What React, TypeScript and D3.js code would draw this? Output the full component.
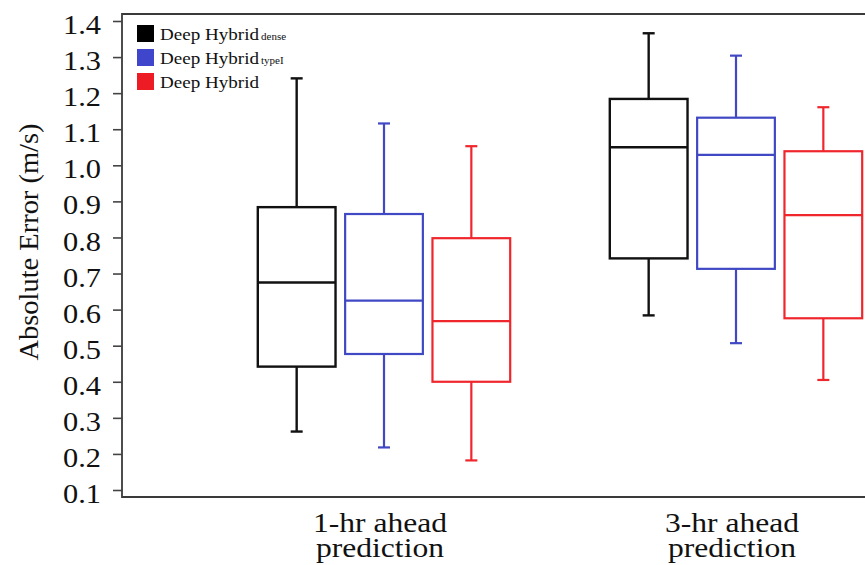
import React, { useEffect, useRef } from "react";
import * as d3 from "d3";

// Forecast horizons (x groups) and their two-line labels
const horizons = ["1-hr", "3-hr"];
const horizonLine1 = ["1-hr ahead", "3-hr ahead"];
const horizonLine2 = ["prediction", "prediction"];

// Models
const models = ["dense", "typeI", "base"];
const modelNames = ["Deep Hybrid", "Deep Hybrid", "Deep Hybrid"];
const modelSubscripts = ["dense", "typeI", ""];
const modelStroke = ["#111111", "#4048c4", "#f0262d"];
const modelSwatch = ["#000000", "#3f46cc", "#ed1c24"];

// Box statistics per horizon: [min, q1, median, q3, max]
const denseStats = [
  [0.262, 0.442, 0.675, 0.884, 1.241],
  [0.584, 0.742, 1.05, 1.184, 1.366],
];
const typeIStats = [
  [0.218, 0.477, 0.625, 0.865, 1.116],
  [0.507, 0.713, 1.029, 1.132, 1.304],
];
const baseStats = [
  [0.182, 0.4, 0.568, 0.798, 1.053],
  [0.405, 0.576, 0.862, 1.039, 1.161],
];
const allStats = [denseStats, typeIStats, baseStats];

const yTickValues = [0.1, 0.2, 0.3, 0.4, 0.5, 0.6, 0.7, 0.8, 0.9, 1.0, 1.1, 1.2, 1.3, 1.4];

const W = 865;
const H = 565;
const left = 122;
const top = 14;
const bottom = 497;
const FONT = "Liberation Serif";

export default function App() {
  const axisRef = useRef<SVGGElement>(null);

  const y = d3.scaleLinear().domain([0.1, 1.4]).range([490, 21]);
  const xGroup = d3.scalePoint<string>().domain(horizons).range([386, 738]);
  const xModel = d3
    .scaleBand<string>()
    .domain(models)
    .range([-133, 129])
    .paddingInner(0.11)
    .paddingOuter(0.055);
  const bw = xModel.bandwidth();
  const capW = 12;

  useEffect(() => {
    if (!axisRef.current) return;
    const g = d3.select(axisRef.current);
    g.selectAll("*").remove();
    g.call(
      d3
        .axisLeft(y)
        .tickValues(yTickValues)
        .tickSize(9)
        .tickPadding(12)
        .tickFormat(d3.format(".1f"))
    );
    g.select(".domain").remove();
    g.selectAll(".tick line").attr("stroke", "#444").attr("stroke-width", 1.6);
    g.selectAll(".tick text")
      .attr("font-family", FONT)
      .attr("font-size", 28)
      .attr("fill", "#111")
      .attr("dy", "0.45em")
      .attr("textLength", 38)
      .attr("lengthAdjust", "spacingAndGlyphs");
  }, []);

  return (
    <svg
      width={W}
      height={H}
      style={{ position: "absolute", left: 0, top: 0, background: "#fff" }}
    >
      <rect x={0} y={0} width={W} height={H} fill="#fff" />

      {/* frame: left axis, top and bottom rules */}
      <path
        d={`M${W + 2},${top} H${left} V${bottom} H${W + 2}`}
        fill="none"
        stroke="#3a3a3a"
        strokeWidth={1.8}
      />

      <g ref={axisRef} transform={`translate(${left},0)`} />

      {/* y-axis title */}
      <text
        transform={`translate(38,242) rotate(-90)`}
        textAnchor="middle"
        fontFamily={FONT}
        fontSize={27}
        fill="#111"
        textLength={237}
        lengthAdjust="spacingAndGlyphs"
      >
        Absolute Error (m/s)
      </text>

      {/* boxes */}
      {horizons.map((h, gi) =>
        models.map((m, mi) => {
          const [mn, q1, med, q3, mx] = allStats[mi][gi];
          const cx = (xGroup(h) as number) + (xModel(m) as number) + bw / 2;
          const x0 = cx - bw / 2;
          const col = modelStroke[mi];
          const sw = mi === 0 ? 2.4 : 2.2;
          return (
            <g key={`${h}-${m}`} stroke={col} strokeWidth={sw} fill="none">
              <line x1={cx} x2={cx} y1={y(mx)} y2={y(q3)} />
              <line x1={cx} x2={cx} y1={y(q1)} y2={y(mn)} />
              <line x1={cx - capW / 2} x2={cx + capW / 2} y1={y(mx)} y2={y(mx)} />
              <line x1={cx - capW / 2} x2={cx + capW / 2} y1={y(mn)} y2={y(mn)} />
              <rect x={x0} y={y(q3)} width={bw} height={y(q1) - y(q3)} />
              <line x1={x0} x2={x0 + bw} y1={y(med)} y2={y(med)} />
            </g>
          );
        })
      )}

      {/* x category labels */}
      {horizons.map((h, gi) => {
        const cx = (xGroup(h) as number) - 6;
        return (
          <g key={h} fontFamily={FONT} fontSize={28} fill="#111" textAnchor="middle">
            <text x={cx} y={532} textLength={134} lengthAdjust="spacingAndGlyphs">
              {horizonLine1[gi]}
            </text>
            <text x={cx} y={557} textLength={128} lengthAdjust="spacingAndGlyphs">
              {horizonLine2[gi]}
            </text>
          </g>
        );
      })}

      {/* legend */}
      {models.map((m, mi) => {
        const yy = 25 + mi * 24;
        return (
          <g key={m} fontFamily={FONT} fill="#111">
            <rect x={137} y={yy} width={17} height={17} fill={modelSwatch[mi]} />
            <text
              x={160}
              y={yy + 15}
              fontSize={17}
              textLength={99}
              lengthAdjust="spacingAndGlyphs"
            >
              {modelNames[mi]}
            </text>
            {modelSubscripts[mi] && (
              <text x={261} y={yy + 15} fontSize={11}>
                {modelSubscripts[mi]}
              </text>
            )}
          </g>
        );
      })}
    </svg>
  );
}
